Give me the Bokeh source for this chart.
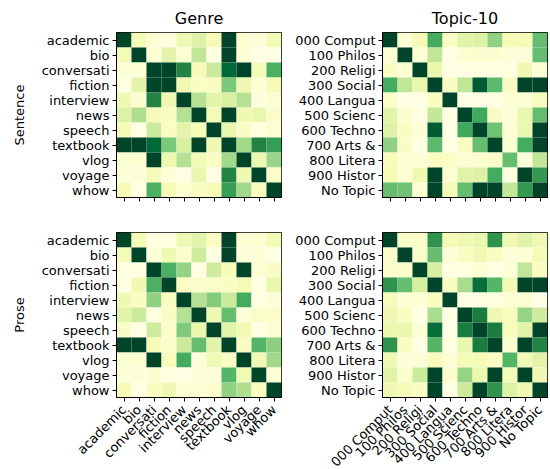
import math
from bokeh.plotting import figure
from bokeh.layouts import column, row
from bokeh.models import (ColumnDataSource, LinearColorMapper, FactorRange, Range1d,
                          LinearAxis, FixedTicker, CustomJSTickFormatter)
from bokeh.transform import transform
from bokeh.palettes import YlGn9
from bokeh.embed import file_html
from bokeh.resources import INLINE

genre_labels = ["academic", "bio", "conversati", "fiction", "interview", "news",
                "speech", "textbook", "vlog", "voyage", "whow"]
topic_labels = ["000 Comput", "100 Philos", "200 Religi", "300 Social", "400 Langua",
                "500 Scienc", "600 Techno", "700 Arts &", "800 Litera", "900 Histor", "No Topic"]

genre_sentence = [
    [1, .14, .06, .02, .16, .23, .13, 1, .06, .04, .14],
    [.14, 1, .05, .21, .06, .32, .01, 1, .05, .01, .01],
    [.05, .05, 1, 1, .75, .13, .29, .87, 1, .14, .60],
    [.02, .21, 1, 1, .16, .10, .10, .49, .16, .05, .13],
    [.16, .07, .75, .16, 1, .35, .21, .25, .35, .03, .06],
    [.23, .37, .13, .10, .35, 1, .14, 1, .16, .19, .08],
    [.13, .01, .29, .10, .21, .13, 1, .19, .09, .02, .06],
    [1, 1, .87, .49, .25, 1, .16, 1, .40, .75, .67],
    [.06, .06, 1, .17, .35, .15, .10, .40, 1, .18, .42],
    [.04, .04, .13, .04, .01, .19, .01, .75, .16, 1, .08],
    [.13, .01, .60, .14, .06, .10, .13, .67, .40, .11, 1],
]

genre_prose = [
    [1, .14, .02, .02, .16, .21, .10, 1, .06, .06, .14],
    [.14, 1, .04, .16, .07, .28, .01, 1, .04, .04, .01],
    [.02, .02, 1, .60, .43, .02, .28, .13, 1, .06, .09],
    [.02, .16, .60, 1, .10, .08, .08, .10, .14, .01, .18],
    [.16, .10, .44, .10, 1, .35, .47, .29, .62, .01, .04],
    [.21, .29, .02, .09, .35, 1, .16, .54, .04, .08, .08],
    [.09, .01, .28, .08, .48, .18, 1, .21, .15, .01, .06],
    [1, 1, .13, .08, .29, .54, .21, 1, .10, .58, .45],
    [.06, .06, 1, .12, .62, .04, .16, .10, 1, .16, .40],
    [.04, .04, .07, .01, .01, .04, .03, .58, .15, 1, .05],
    [.13, .01, .10, .16, .05, .06, .07, .44, .37, .10, 1],
]

topic_sentence = [
    [1, .05, .13, .62, .10, .22, .23, .44, .13, .14, .54],
    [.05, 1, .05, .32, .01, .06, .07, .07, .04, .04, .54],
    [.10, .06, 1, .18, .01, .01, .02, .01, .02, .16, .05],
    [.62, .32, .18, 1, .10, .32, .92, .56, .09, 1, 1],
    [.08, .01, .01, .10, 1, .01, .01, .01, .06, .05, .12],
    [.21, .07, .02, .31, .01, 1, .63, .09, .04, .18, .54],
    [.23, .09, .04, .92, .01, .63, 1, .52, .06, .18, 1],
    [.44, .09, .02, .56, .01, .10, .54, 1, .06, .62, 1],
    [.12, .05, .05, .10, .10, .05, .07, .08, .54, .04, .32],
    [.14, .06, .16, 1, .06, .22, .23, .62, .02, 1, .68],
    [.54, .52, .06, 1, .13, .54, 1, 1, .31, .68, 1],
]

topic_prose = [
    [1, .09, .09, .70, .14, .16, .18, .70, .16, .22, .16],
    [.08, 1, .08, .54, .04, .10, .16, .10, .04, .05, .14],
    [.08, .08, 1, .26, .02, .02, .05, .01, .04, .32, .10],
    [.70, .54, .26, 1, .10, .38, .84, .58, .15, 1, 1],
    [.12, .05, .05, .10, 1, .01, .01, .02, .05, .06, .01],
    [.16, .10, .01, .38, .01, 1, .78, .16, .12, .43, .28],
    [.18, .18, .05, .84, .01, .78, 1, .78, .12, .21, 1],
    [.70, .10, .01, .58, .02, .18, .78, 1, .07, 1, .75],
    [.16, .04, .04, .12, .06, .14, .14, .10, .58, .15, .21],
    [.22, .07, .29, 1, .07, .43, .18, 1, .14, 1, .16],
    [.16, .14, .10, 1, .01, .29, 1, .70, .23, .16, 1],
]

FONT = "DejaVu Sans"


def interp(pal, n):
    def h2rgb(h):
        h = h.lstrip("#")
        return [int(h[i:i + 2], 16) for i in (0, 2, 4)]
    cols = [h2rgb(c) for c in pal]
    out = []
    for i in range(n):
        t = i / (n - 1) * (len(cols) - 1)
        k = min(int(t), len(cols) - 2)
        f = t - k
        c = [round(cols[k][j] + (cols[k + 1][j] - cols[k][j]) * f) for j in range(3)]
        out.append("#%02x%02x%02x" % tuple(c))
    return out


palette = interp(list(YlGn9[::-1]), 256)
mapper = LinearColorMapper(palette=palette, low=0, high=1)


def style_axis(ax):
    ax.axis_line_color = "black"
    ax.major_tick_line_color = "black"
    ax.minor_tick_line_color = None
    ax.major_tick_out = 4
    ax.major_tick_in = 0
    ax.major_label_standoff = 3
    ax.major_label_text_font = FONT
    ax.major_label_text_font_size = "13px"
    ax.major_label_text_color = "black"
    ax.axis_label_text_font = FONT
    ax.axis_label_text_font_size = "13px"
    ax.axis_label_text_font_style = "normal"
    ax.axis_label_text_color = "black"


def make(matrix, labels, title, ylabel, show_x, left, top, bottom, right):
    xs, ys, vs = [], [], []
    for i, r in enumerate(labels):
        for j, c in enumerate(labels):
            xs.append(c if show_x else j + 0.5)
            ys.append(r)
            vs.append(matrix[i][j])
    src = ColumnDataSource(dict(x=xs, y=ys, v=vs))
    if show_x:
        xr = FactorRange(*labels)
        xloc = "below"
    else:
        xr = Range1d(0, len(labels))
        xloc = None
    p = figure(x_range=xr, y_range=FactorRange(*labels[::-1]),
               frame_width=165, frame_height=165,
               min_border_left=left, min_border_right=right,
               min_border_top=top, min_border_bottom=bottom,
               output_backend="svg", toolbar_location=None,
               x_axis_location=xloc, title=title)
    p.rect(x="x", y="y", width=1, height=1, source=src,
           fill_color=transform("v", mapper), line_color=None)
    p.grid.visible = False
    p.outline_line_color = "black"
    p.outline_line_width = 1
    p.background_fill_color = "white"
    p.border_fill_color = "white"
    if title:
        p.title.text_font = FONT
        p.title.text_font_size = "16px"
        p.title.text_font_style = "normal"
        p.title.text_color = "black"
        p.title.align = "center"
        p.title.offset = 0
    if not show_x:
        ax = LinearAxis(ticker=FixedTicker(ticks=[k + 0.5 for k in range(len(labels))]),
                        formatter=CustomJSTickFormatter(code="return ''"))
        p.add_layout(ax, "below")
    for ax in list(p.xaxis) + list(p.yaxis):
        style_axis(ax)
    if ylabel:
        p.yaxis.axis_label = ylabel
        p.yaxis.axis_label_standoff = 12
    if show_x:
        p.xaxis.major_label_orientation = math.pi / 4
        p.xaxis.major_label_standoff = 6
    else:
        p.xaxis.major_label_standoff = 0
    return p


f1 = make(genre_sentence, genre_labels, "Genre", "Sentence", False, 116, 32, 18, 9)
f2 = make(topic_sentence, topic_labels, "Topic-10", None, False, 92, 32, 18, 3)
f3 = make(genre_prose, genre_labels, None, "Prose", True, 116, 17, 72, 9)
f4 = make(topic_prose, topic_labels, None, None, True, 92, 17, 72, 3)

layout = column(row(f1, f2, spacing=0), row(f3, f4, spacing=0), spacing=0)
open("out.html", "w").write(file_html(layout, INLINE))
